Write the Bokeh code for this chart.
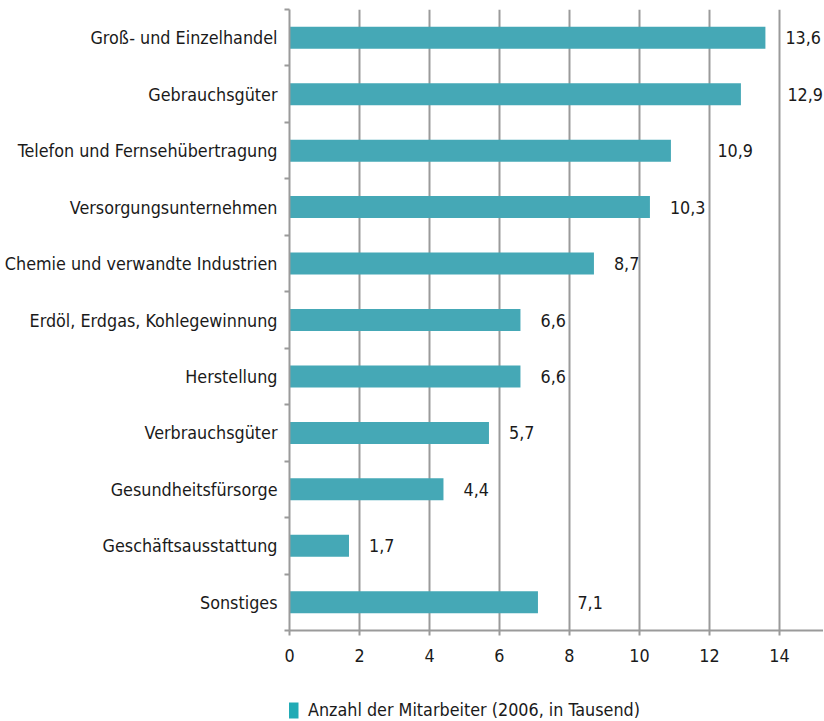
from bokeh.plotting import figure
from bokeh.layouts import column
from bokeh.models import FixedTicker, Legend, LegendItem, Range1d, ColumnDataSource
from bokeh.core.properties import value
from bokeh.embed import file_html
from bokeh.resources import INLINE

categories = [
    "Groß- und Einzelhandel",
    "Gebrauchsgüter",
    "Telefon und Fernsehübertragung",
    "Versorgungsunternehmen",
    "Chemie und verwandte Industrien",
    "Erdöl, Erdgas, Kohlegewinnung",
    "Herstellung",
    "Verbrauchsgüter",
    "Gesundheitsfürsorge",
    "Geschäftsausstattung",
    "Sonstiges",
]
values = [13.6, 12.9, 10.9, 10.3, 8.7, 6.6, 6.6, 5.7, 4.4, 1.7, 7.1]
value_labels = ["13,6", "12,9", "10,9", "10,3", "8,7", "6,6", "6,6", "5,7", "4,4", "1,7", "7,1"]
x_ticks = [0, 2, 4, 6, 8, 10, 12, 14]
series_name = "Anzahl der Mitarbeiter (2006, in Tausend)"

FONT = "DejaVu Sans Condensed"
FS = "17.8px"
GREY = "#9a9a9a"
BAR = "#45a8b6"
LEG = "#22abb5"
TXT = "#1a1a1a"

W = 823
H1, H2 = 680, 40
BL, BT, BR, BB = 289, 9, 0, 50
X_END = 15.26
n = len(categories)
ypos = [n - i - 0.5 for i in range(n)]

# label placement: 20px right of the bar; if a gridline would cross the label,
# place it just right of that gridline (as in the reference)
ppu = (W - BL - BR) / X_END
lab_x = []
for v, t in zip(values, value_labels):
    start = v * ppu + 20
    end = start + 7.5 * len(t)
    for g in x_ticks:
        gp = g * ppu
        if start < gp < end:
            start = gp + 8
    lab_x.append(start / ppu)

src = ColumnDataSource(dict(y=ypos, v=values, lab=value_labels, lx=lab_x))

p = figure(width=W, height=H1, output_backend="svg", toolbar_location=None,
           x_range=Range1d(0, X_END), y_range=Range1d(0, n),
           min_border_left=BL, min_border_top=BT, min_border_right=BR, min_border_bottom=BB)
p.outline_line_color = None
p.background_fill_color = "white"
p.border_fill_color = "white"

p.hbar(y="y", right="v", left=0, height=0.39, source=src, fill_color=BAR, line_color=None)
p.text(x="lx", y="y", text="lab", source=src, text_baseline="middle",
       text_align="left", text_font=value(FONT), text_font_size=FS, text_color=TXT)

# x axis
xa = p.xaxis[0]
xa.ticker = FixedTicker(ticks=x_ticks)
xa.axis_line_color = GREY
xa.axis_line_width = 2
xa.major_tick_line_color = GREY
xa.major_tick_line_width = 2
xa.major_tick_out = 5
xa.major_tick_in = 0
xa.minor_tick_line_color = None
xa.major_label_text_font = FONT
xa.major_label_text_font_size = FS
xa.major_label_text_color = TXT
xa.major_label_standoff = 13

# y axis
ya = p.yaxis[0]
ya.ticker = FixedTicker(ticks=ypos, minor_ticks=list(range(n + 1)))
ya.major_label_overrides = {y: c for y, c in zip(ypos, categories)}
ya.major_tick_line_color = None
ya.minor_tick_line_color = GREY
ya.minor_tick_line_width = 2
ya.minor_tick_out = 5
ya.minor_tick_in = 0
ya.axis_line_color = GREY
ya.axis_line_width = 2
ya.major_label_text_font = FONT
ya.major_label_text_font_size = FS
ya.major_label_text_color = TXT
ya.major_label_standoff = 6

p.ygrid.grid_line_color = None
p.xgrid.ticker = FixedTicker(ticks=x_ticks)
p.xgrid.grid_line_color = GREY
p.xgrid.grid_line_width = 2

# legend strip below the chart (its frame is aligned with the chart's frame)
q = figure(width=W, height=H2, output_backend="svg", toolbar_location=None,
           x_range=Range1d(0, 1), y_range=Range1d(0, 1),
           min_border_left=BL, min_border_right=0, min_border_top=0, min_border_bottom=0)
q.axis.visible = False
q.grid.visible = False
q.outline_line_color = None
q.border_fill_color = "white"
lr = q.hbar(y="y", right="v", left=0, height=0.39, source=src, fill_color=LEG,
            line_color=None, visible=False)
legend = Legend(items=[LegendItem(label=series_name, renderers=[lr])],
                location=(-9, 0), orientation="horizontal",
                label_text_font=FONT, label_text_font_size=FS,
                label_text_color=TXT, glyph_width=20, glyph_height=20,
                border_line_color=None, background_fill_alpha=0, padding=0, margin=0,
                label_standoff=8)
q.add_layout(legend, "center")

layout = column(p, q, spacing=0)
open("out.html", "w").write(file_html(layout, INLINE))
